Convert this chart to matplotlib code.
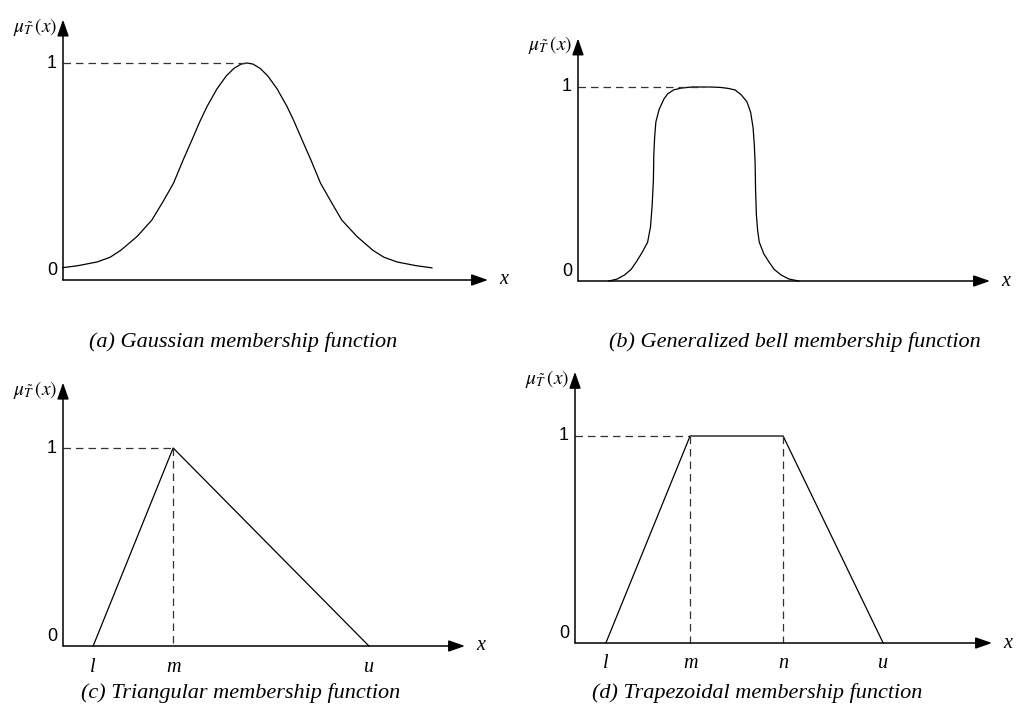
import matplotlib
matplotlib.use("Agg")
from matplotlib import pyplot as plt

plt.rcParams["mathtext.fontset"] = "stix"

W, H = 1018, 706

# x axis of every panel runs 0..10 up to the arrow tip, y is membership
GAUSS_X = [0.00, 0.35, 0.80, 1.11, 1.36, 1.74, 2.09, 2.35, 2.60, 2.82,
           3.04, 3.22, 3.39, 3.62, 3.84, 4.02, 4.19, 4.33, 4.47, 4.64,
           4.82, 5.04, 5.27, 5.44, 5.62, 5.84, 6.06, 6.31, 6.56, 6.92,
           7.29, 7.55, 7.86, 8.31, 8.68]
GAUSS_Y = [0.057, 0.066, 0.083, 0.105, 0.137, 0.20, 0.276, 0.36, 0.446, 0.55,
           0.648, 0.73, 0.80, 0.88, 0.94, 0.975, 0.995, 1.0, 0.995, 0.975,
           0.94, 0.88, 0.80, 0.73, 0.648, 0.55, 0.446, 0.36, 0.276, 0.20,
           0.137, 0.105, 0.083, 0.066, 0.056]
GAUSS_PEAK = 4.33

BELL_X = [0.75, 0.95, 1.13, 1.29, 1.42, 1.55, 1.69, 1.76, 1.80, 1.83,
          1.84, 1.86, 1.89, 1.97, 2.09, 2.18, 2.32, 2.52, 2.77, 3.20,
          3.45, 3.64, 3.81, 3.96, 4.10, 4.19, 4.25, 4.28, 4.30, 4.31,
          4.33, 4.36, 4.40, 4.51, 4.63, 4.76, 4.93, 5.12, 5.36]
BELL_Y = [0.0, 0.01, 0.031, 0.06, 0.10, 0.145, 0.20, 0.28, 0.39, 0.52,
          0.65, 0.74, 0.82, 0.885, 0.94, 0.965, 0.985, 0.995, 1.0, 1.0,
          0.998, 0.993, 0.985, 0.96, 0.924, 0.87, 0.79, 0.70, 0.60, 0.47,
          0.34, 0.26, 0.20, 0.14, 0.10, 0.06, 0.031, 0.01, 0.0]
BELL_PEAK = 3.07

TRI_POINTS = [0.75, 2.74, 7.61]
TRI_LABELS = ["l", "m", "u"]

TRAP_POINTS = [0.74, 2.76, 4.99, 7.39]
TRAP_LABELS = ["l", "m", "n", "u"]

CAPTIONS = [
    "(a) Gaussian membership function",
    "(b) Generalized bell membership function",
    "(c) Triangular membership function",
    "(d) Trapezoidal membership function",
]

SERIF = "Liberation Serif"
SANS = "Liberation Sans"

fig = plt.figure(figsize=(W / 100, H / 100), dpi=100)


def make_panel(ox, oy, tip_x, y1, ytop):
    # axes spans origin..arrow tip horizontally and 0..1 vertically (pixels)
    ax = fig.add_axes([ox / W, 1 - oy / H, (tip_x - ox) / W, (oy - y1) / H])
    ax.set_xlim(0, 10)
    ax.set_ylim(0, 1)
    ax.axis("off")
    arrow = dict(arrowstyle="-|>,head_length=1.0,head_width=0.35",
                 mutation_scale=10, color="black", lw=1.1,
                 shrinkA=0, shrinkB=0)
    ax.annotate("", xy=(10, 0), xytext=(0, 0), arrowprops=arrow,
                annotation_clip=False)
    ax.annotate("", xy=(0, ytop), xytext=(0, 0), arrowprops=arrow,
                annotation_clip=False)
    ax.annotate("1", (0, 1), xytext=(-11, 0), textcoords="offset pixels",
                ha="center", va="center", fontsize=13, family=SANS,
                annotation_clip=False)
    ax.annotate("0", (0, 0), xytext=(-11, 1), textcoords="offset pixels",
                ha="center", va="bottom", fontsize=13, family=SANS,
                annotation_clip=False)
    ax.annotate("x", (10, 0), xytext=(16, 0), textcoords="offset pixels",
                ha="center", va="center", fontsize=14.5, family=SERIF,
                style="italic", annotation_clip=False)
    ax.annotate(r"$\mu_{\tilde{T}}\,(x)$", (0, ytop), xytext=(-6, -7),
                textcoords="offset pixels", ha="right", va="center",
                fontsize=14, annotation_clip=False)
    return ax


def dashed(ax, xs, ys):
    ax.plot(xs, ys, color="#333333", lw=0.9, ls=(0, (6, 4)), clip_on=False)


def tick_labels(ax, xs, labels):
    for x, lab in zip(xs, labels):
        ax.annotate(lab, (x, 0), xytext=(0, -21), textcoords="offset pixels",
                    ha="center", va="center", fontsize=14.5, family=SERIF,
                    style="italic", annotation_clip=False)


# (a) gaussian
ax = make_panel(63, 280, 488, 63, 1.2)
ax.plot(GAUSS_X, GAUSS_Y, color="black", lw=0.9, clip_on=False)
dashed(ax, [0, GAUSS_PEAK], [1, 1])

# (b) generalized bell
ax = make_panel(578, 281, 990, 87, 1.25)
ax.plot(BELL_X, BELL_Y, color="black", lw=0.9, clip_on=False)
dashed(ax, [0, BELL_PEAK], [1, 1])

# (c) triangular
ax = make_panel(63, 646, 465, 448, 1.33)
l, m, u = TRI_POINTS
ax.plot([l, m, u], [0, 1, 0], color="black", lw=0.9, clip_on=False)
dashed(ax, [0, m], [1, 1])
dashed(ax, [m, m], [1, 0])
tick_labels(ax, TRI_POINTS, TRI_LABELS)

# (d) trapezoidal
ax = make_panel(575, 643, 992, 436, 1.31)
l, m, n, u = TRAP_POINTS
ax.plot([l, m, n, u], [0, 1, 1, 0], color="black", lw=0.9, clip_on=False)
dashed(ax, [0, m], [1, 1])
dashed(ax, [m, m], [1, 0])
dashed(ax, [n, n], [1, 0])
tick_labels(ax, TRAP_POINTS, TRAP_LABELS)

# captions
for (cx, cy), text in zip([(243, 342), (795, 342), (241, 693), (757, 693)],
                          CAPTIONS):
    fig.text(cx / W, 1 - cy / H, text, ha="center", va="center",
             fontsize=16, family=SERIF, style="italic")

fig.savefig("out.png", dpi=100)
